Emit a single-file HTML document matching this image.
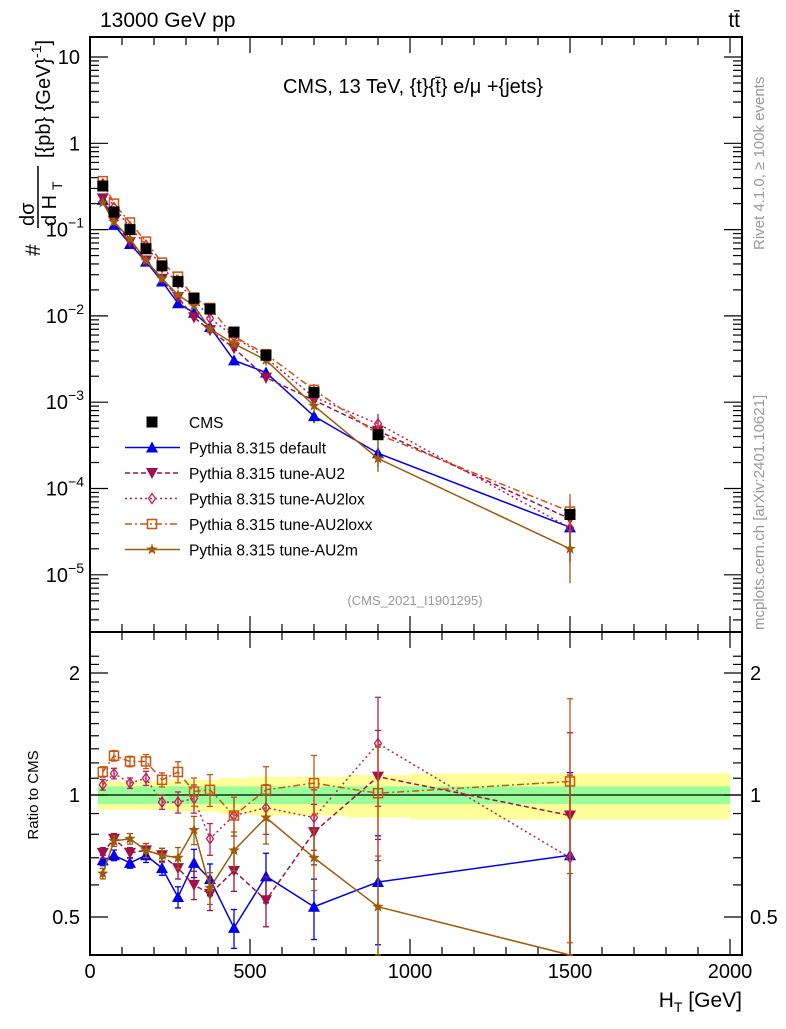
<!DOCTYPE html>
<html><head><meta charset="utf-8"><style>
body{margin:0;background:#fff}
svg text{font-family:"Liberation Sans",sans-serif}
</style></head><body>
<svg id="chart" width="786" height="1024" xmlns="http://www.w3.org/2000/svg">
<g id="bands"></g>
<g id="axes"></g>
<g id="series"></g>
<text x="100" y="27" font-size="21">13000 GeV pp</text>
<text x="740" y="27" font-size="21" text-anchor="end">tt̄</text>
<text x="413" y="93" font-size="20" text-anchor="middle">CMS, 13 TeV, {t}{t̄} e/μ +{jets}</text>
<text x="415" y="605" font-size="13" fill="#999" text-anchor="middle">(CMS_2021_I1901295)</text>
<text transform="translate(764,250) rotate(-90)" font-size="15" fill="#999">Rivet 4.1.0, ≥ 100k events</text>
<text transform="translate(764,630) rotate(-90)" font-size="15" fill="#999">mcplots.cern.ch [arXiv:2401.10621]</text>
<g>
<text transform="translate(40,256) rotate(-90)" font-size="21">#</text>
<text transform="translate(34,226) rotate(-90)" font-size="20">dσ</text>
<line x1="38" y1="228" x2="38" y2="166" stroke="#000" stroke-width="1.5"/>
<text transform="translate(56,226) rotate(-90)" font-size="20">d H</text>
<text transform="translate(62,190) rotate(-90)" font-size="14">T</text>
<text transform="translate(50,158) rotate(-90)" font-size="20">[{pb} {GeV}<tspan dy="-9" font-size="14">-1</tspan><tspan dy="9">]</tspan></text>
</g>
<text transform="translate(38,795) rotate(-90)" font-size="15" text-anchor="middle">Ratio to CMS</text>
<text x="742" y="1007" font-size="21" text-anchor="end">H<tspan font-size="14" dy="5">T</tspan><tspan dy="-5"> [GeV]</tspan></text>
<g id="legend"></g>
</svg>
<script>
const xVals=[40,75,125,175,225,275,325,375,450,550,700,900,1500];
const cms=[0.32,0.16,0.10,0.06,0.038,0.025,0.016,0.012,0.0065,0.0035,0.0013,0.00042,0.00005];
const cmsErr=[0.04,0.04,0.04,0.05,0.05,0.05,0.05,0.06,0.06,0.07,0.08,0.10,0.13];
const rDefault=[0.69,0.71,0.68,0.71,0.66,0.56,0.68,0.62,0.47,0.63,0.53,0.61,0.71];
const rAU2=[0.72,0.78,0.72,0.73,0.71,0.66,0.60,0.57,0.65,0.55,0.81,1.11,0.89];
const rAU2lox=[1.06,1.13,1.07,1.10,0.96,0.96,0.98,0.78,0.89,0.93,0.88,1.34,0.70];
const rAU2loxx=[1.14,1.25,1.21,1.21,1.09,1.14,1.02,1.03,0.89,1.03,1.07,1.01,1.08];
const rAU2m=[0.64,0.77,0.78,0.73,0.71,0.70,0.82,0.59,0.73,0.88,0.70,0.53,0.40];
const mcErr=[0.03,0.03,0.03,0.04,0.04,0.06,0.08,0.09,0.11,0.14,0.17,0.30,0.60];
const bandEdges=[25,50,100,150,200,250,300,350,400,500,600,800,1000,2000];
const bandTot=[0.08,0.08,0.08,0.08,0.08,0.09,0.09,0.09,0.10,0.11,0.11,0.12,0.13];
const bandStat=[0.05,0.05,0.05,0.05,0.05,0.05,0.05,0.05,0.05,0.05,0.05,0.05,0.05];
const xTicks=[0,500,1000,1500,2000];
const yTicks=[10,1,0.1,0.01,0.001,0.0001,0.00001];
const yTickLabels=["10","1","10^-1","10^-2","10^-3","10^-4","10^-5"];
const rTicks=[2,1,0.5];

const NS="http://www.w3.org/2000/svg";
const L=90,R=742,T=37,B=632,RT=632,RB=955;
const X=v=>90+v*0.32;
const Y=v=>57-86.3*(Math.log10(v)-1);
const YR=r=>Math.max(RT,Math.min(RB,795-122*Math.log2(r)));
function mk(tag,attrs,parent){const e=document.createElementNS(NS,tag);for(const k in attrs)e.setAttribute(k,attrs[k]);parent.appendChild(e);return e;}
const axes=document.getElementById('axes'),ser=document.getElementById('series'),bands=document.getElementById('bands');

for(let i=0;i<bandTot.length;i++){
 const x1=X(bandEdges[i]),x2=X(bandEdges[i+1]);
 const y=mk('rect',{x:x1,y:YR(1+bandTot[i]),width:x2-x1,height:YR(1-bandTot[i])-YR(1+bandTot[i]),fill:'#ffff99'},bands);
 
 
}
for(let i=0;i<bandStat.length;i++){
 const x1=X(bandEdges[i]),x2=X(bandEdges[i+1]);
 const g=mk('rect',{x:x1,y:YR(1+bandStat[i]),width:x2-x1,height:YR(1-bandStat[i])-YR(1+bandStat[i]),fill:'#99ff99'},bands);
 
 
}
mk('line',{x1:L,x2:R,y1:795,y2:795,stroke:'#000','stroke-width':1.2},axes);

mk('rect',{x:L,y:T,width:R-L,height:B-T,fill:'none',stroke:'#000','stroke-width':2},axes);
mk('rect',{x:L,y:RT,width:R-L,height:RB-RT,fill:'none',stroke:'#000','stroke-width':2},axes);
for(let v=0;v<=2000;v+=100){
 const big=v%500===0,len=big?16:8;
 [[T,1],[B,-1],[RT,1],[RB,-1]].forEach(([y,d])=>mk('line',{x1:X(v),x2:X(v),y1:y,y2:y+d*len,stroke:'#000','stroke-width':1.2},axes));
}
xTicks.forEach(v=>{const t=mk('text',{x:X(v),y:978,'font-size':20,'text-anchor':'middle'},axes);t.textContent=v;
 
 });
for(let e=-6;e<=1;e++)for(let m=1;m<10;m++){
 const v=m*Math.pow(10,e),y=Y(v);if(y<T||y>B)continue;
 const len=m===1?18:9;
 mk('line',{x1:L,x2:L+len,y1:y,y2:y,stroke:'#000','stroke-width':1.2},axes);
 mk('line',{x1:R,x2:R-len,y1:y,y2:y,stroke:'#000','stroke-width':1.2},axes);
}
yTicks.forEach((v,i)=>{const lab=yTickLabels[i];const t=mk('text',{x:80,y:Y(v)+7,'font-size':20,'text-anchor':'end'},axes);
 if(lab.includes('^')){const [b,p]=lab.split('^');t.textContent=b;const s=mk('tspan',{dy:-9,'font-size':14},t);s.textContent=p.replace('-','−');t.setAttribute('x',84);}
 else t.textContent=lab;
 
 });
for(let r=0.4;r<=2.3;r+=0.1){const y=YR(r);if(y<=RT||y>=RB)continue;const big=[0.5,1,2].some(q=>Math.abs(q-r)<1e-6);const len=big?18:9;
 mk('line',{x1:L,x2:L+len,y1:y,y2:y,stroke:'#000','stroke-width':1.2},axes);
 mk('line',{x1:R,x2:R-len,y1:y,y2:y,stroke:'#000','stroke-width':1.2},axes);}
rTicks.forEach(r=>{const a=mk('text',{x:80,y:YR(r)+7,'font-size':20,'text-anchor':'end'},axes);a.textContent=r;
 
 
 const b=mk('text',{x:750,y:YR(r)+7,'font-size':20},axes);b.textContent=r;
 
 });

function marker(p,type,x,y,col){
 const s=5.5;
 if(type==='sq'){mk('rect',{x:x-s,y:y-s,width:2*s,height:2*s,fill:col},p);}
 else if(type==='osq'){mk('rect',{x:x-4.5,y:y-4.5,width:9,height:9,fill:'none',stroke:col,'stroke-width':1.5},p);}
 else if(type==='up'){mk('polygon',{points:`${x},${y-6} ${x-6},${y+5} ${x+6},${y+5}`,fill:col},p);}
 else if(type==='down'){mk('polygon',{points:`${x},${y+6} ${x-6},${y-5} ${x+6},${y-5}`,fill:col},p);}
 else if(type==='dia'){mk('polygon',{points:`${x},${y-5} ${x-3.5},${y} ${x},${y+5} ${x+3.5},${y}`,fill:'none',stroke:col,'stroke-width':1.3},p);}
 else if(type==='star'){let pts=[];for(let k=0;k<10;k++){const a=-Math.PI/2+k*Math.PI/5,rr=k%2?2.5:6;pts.push((x+rr*Math.cos(a)).toFixed(1)+','+(y+rr*Math.sin(a)).toFixed(1));}mk('polygon',{points:pts.join(' '),fill:col},p);}
}
const series=[
 {name:'Pythia 8.315 default',key:'default',r:rDefault,col:'#0000ee',m:'up',dash:''},
 {name:'Pythia 8.315 tune-AU2',key:'au2',r:rAU2,col:'#a0104a',m:'down',dash:'5,3'},
 {name:'Pythia 8.315 tune-AU2lox',key:'au2lox',r:rAU2lox,col:'#c0205a',m:'dia',dash:'2,3'},
 {name:'Pythia 8.315 tune-AU2loxx',key:'au2loxx',r:rAU2loxx,col:'#cc5511',m:'osq',dash:'7,3,2,3'},
 {name:'Pythia 8.315 tune-AU2m',key:'au2m',r:rAU2m,col:'#a05a0a',m:'star',dash:''}
];
series.forEach(s=>{
 const g=mk('g',{},ser);
 
 
 const main=xVals.map((x,i)=>[X(x),Y(cms[i]*s.r[i])]);
 const rat=xVals.map((x,i)=>[X(x),YR(s.r[i])]);
 mk('polyline',{points:main.map(p=>p.join(',')).join(' '),fill:'none',stroke:s.col,'stroke-width':1.5,'stroke-dasharray':s.dash},g);
 mk('polyline',{points:rat.map(p=>p.join(',')).join(' '),fill:'none',stroke:s.col,'stroke-width':1.5,'stroke-dasharray':s.dash},g);
 xVals.forEach((x,i)=>{
  const e=mcErr[i],v=cms[i]*s.r[i];
  mk('line',{x1:X(x),x2:X(x),y1:Y(v*(1+e)),y2:Y(v*Math.max(0.05,1-e)),stroke:s.col,'stroke-width':1.3},g);
  const y1=YR(s.r[i]*(1+e)),y2=YR(s.r[i]*Math.max(0.05,1-e));
  mk('line',{x1:X(x),x2:X(x),y1:y1,y2:y2,stroke:s.col,'stroke-width':1.3},g);
  mk('line',{x1:X(x)-3,x2:X(x)+3,y1:y1,y2:y1,stroke:s.col,'stroke-width':1.3},g);
  mk('line',{x1:X(x)-3,x2:X(x)+3,y1:y2,y2:y2,stroke:s.col,'stroke-width':1.3},g);
  const pm=mk('g',{},g);
  
  
  marker(pm,s.m,X(x),Y(v),s.col);
  if(YR(s.r[i])<RB&&YR(s.r[i])>RT)marker(pm,s.m,X(x),YR(s.r[i]),s.col);
 });
});
const cg=mk('g',{},ser);


xVals.forEach((x,i)=>{
 mk('line',{x1:X(x),x2:X(x),y1:Y(cms[i]*(1+cmsErr[i])),y2:Y(cms[i]*(1-cmsErr[i])),stroke:'#000','stroke-width':1.3},cg);
 const p=mk('g',{},cg);
 
 
 marker(p,'sq',X(x),Y(cms[i]),'#000');
});
const lg=document.getElementById('legend');
const entries=[{name:'CMS',m:'sq',col:'#000',dash:null}].concat(series);
entries.forEach((s,i)=>{
 const y=422+i*25.5;
 const g=mk('g',{},lg);
 
 
 if(s.dash!==null)mk('line',{x1:125,x2:180,y1:y,y2:y,stroke:s.col,'stroke-width':1.5,'stroke-dasharray':s.dash},g);
 marker(g,s.m,152,y,s.col);
 const t=mk('text',{x:189,y:y+6,'font-size':15.5},g);t.textContent=s.name;
});
</script>
</body></html>
